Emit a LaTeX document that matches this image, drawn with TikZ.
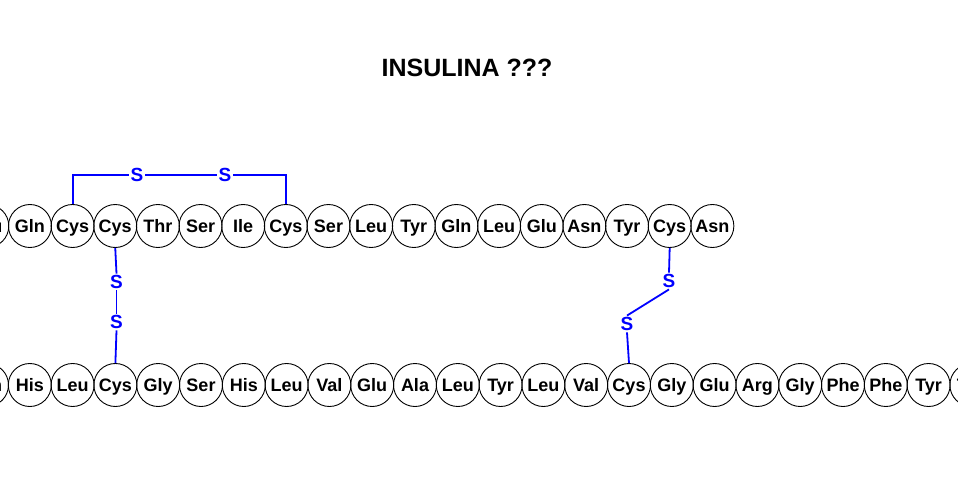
\documentclass[tikz,border=0pt]{standalone}
\usepackage{fontspec}
\setmainfont{Liberation Sans}
\definecolor{bondblue}{RGB}{0,0,255}
\begin{document}
\begin{tikzpicture}[x=1pt,y=-1pt,
  aa/.style={circle,draw=black,line width=0.9pt,minimum size=43pt,inner sep=0pt,
    text height=16.8pt,text depth=4pt,
    font=\fontsize{18}{18}\selectfont\bfseries,text=black},
  sulf/.style={text=bondblue,font=\fontsize{19}{19}\selectfont\bfseries,inner sep=1.5pt},
  bond/.style={draw=bondblue,line width=1.8pt},
  titlestyle/.style={font=\fontsize{25}{25}\selectfont\bfseries,text=black}]
\useasboundingbox (0,0) rectangle (958,503);
\fill[white] (0,0) rectangle (958,503);
\clip (0,0) rectangle (958,503);
\node[titlestyle] (title) at (467,68) {INSULINA ???};
% chain A (top)
\foreach \n [count=\i from 0] in {Glu,Gln,Cys,Cys,Thr,Ser,Ile,Cys,Ser,Leu,Tyr,Gln,Leu,Glu,Asn,Tyr,Cys,Asn}
  \node[aa] (t\i) at (-12.7+42.65*\i,226) {\n};
% chain B (bottom)
\foreach \n [count=\i from 0] in {Gln,His,Leu,Cys,Gly,Ser,His,Leu,Val,Glu,Ala,Leu,Tyr,Leu,Val,Cys,Gly,Glu,Arg,Gly,Phe,Phe,Tyr,Thr}
  \node[aa] (b\i) at (-13+42.8*\i,385) {\n};
% sulfur atoms
\node[sulf] (sa) at (137,175) {S};
\node[sulf] (sb) at (225,175) {S};
\node[sulf] (sc) at (116.5,282) {S};
\node[sulf] (sd) at (116.5,322) {S};
\node[sulf] (se) at (669,281) {S};
\node[sulf] (sf) at (627,324) {S};
% intra-chain bridge
\draw[bond] (t2.north) |- (sa.west);
\draw[bond] (sa.east) -- (sb.west);
\draw[bond] (sb.east) -| (t7.north);
% inter-chain bridges
\draw[bond] (t3.south) -- (sc.north);
\draw[bond] (sc.south) -- (sd.north);
\draw[bond] (sd.south) -- (b3.north);
\draw[bond] (t16.south) -- (se.north);
\draw[bond] (se.south) -- (sf.north);
\draw[bond] (sf.south) -- (b15.north);
\end{tikzpicture}
\end{document}
